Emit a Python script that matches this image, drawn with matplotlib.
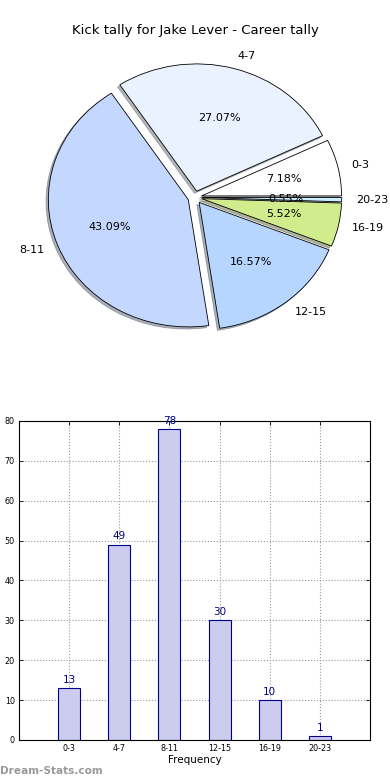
import matplotlib
matplotlib.use('Agg')
import matplotlib.pyplot as plt

categories = ['0-3', '4-7', '8-11', '12-15', '16-19', '20-23']
kicks = [13, 49, 78, 30, 10, 1]
pie_colors = ['#ffffff', '#eaf1ff', '#c4d8ff', '#b6d6ff', '#d0ec8c', '#cdeeff']
yticks = [0, 10, 20, 30, 40, 50, 60, 70, 80]

fig = plt.figure(figsize=(3.9, 7.8), dpi=100)

# pie on top
ax1 = fig.add_axes([0.051, 0.543, 0.897, 0.408])
ax1.pie(kicks, labels=categories, colors=pie_colors, explode=[0.05] * len(kicks),
        autopct='%1.2f%%', shadow={'ox': -0.012, 'oy': -0.012, 'shade': 0.55},
        startangle=0, labeldistance=1.1,
        wedgeprops={'edgecolor': 'black', 'linewidth': 0.6},
        textprops={'fontsize': 8})
ax1.set_aspect('auto')
ax1.set_xlim(-1.25, 1.25)
ax1.set_ylim(-1.25, 1.25)
ax1.axis('off')
fig.text(0.5, 0.961, 'Kick tally for Jake Lever - Career tally', ha='center', va='center', fontsize=9.5)

# bar chart below
ax2 = fig.add_axes([0.0487, 0.0513, 0.9, 0.409])
pos = list(range(1, len(kicks) + 1))
bars = ax2.bar(pos, kicks, width=0.44, color='#ccccee', edgecolor='#000088', linewidth=0.8, zorder=2)
for x, v in zip(pos, kicks):
    ax2.text(x, v + 0.8, str(v), ha='center', va='bottom', color='#000088', fontsize=7.5)
ax2.set_xlim(0, 7)
ax2.set_ylim(0, 80)
ax2.set_xticks(pos)
ax2.set_xticklabels(categories, fontsize=5.8)
ax2.set_yticks(yticks)
ax2.tick_params(axis='y', labelsize=5.8)
ax2.tick_params(direction='in', top=True, right=True, length=3, width=0.6, pad=3)
ax2.grid(True, linestyle=':', color='#999999', linewidth=0.8, zorder=0)
ax2.set_axisbelow(True)
ax2.set_xlabel('Frequency', fontsize=7.5, labelpad=1)
for s in ax2.spines.values():
    s.set_linewidth(0.8)

fig.text(0.0, 0.005, 'Dream-Stats.com', color='#999999', fontsize=7.6, fontweight='bold', ha='left', va='bottom')

plt.savefig('out.png', dpi=100)
